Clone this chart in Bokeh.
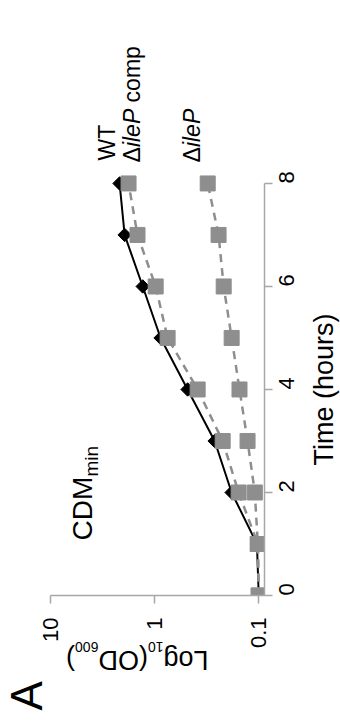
import math
from bokeh.plotting import figure
from bokeh.layouts import column
from bokeh.models import Label, Range1d, FixedTicker, NumeralTickFormatter
from bokeh.embed import file_html
from bokeh.resources import INLINE

# ---- data (time in hours, OD600) ----
time_h = [0, 1, 2, 3, 4, 5, 6, 7, 8]
od_wt = [0.100, 0.104, 0.182, 0.265, 0.482, 0.876, 1.30, 1.94, 2.17]
od_comp = [0.100, 0.102, 0.156, 0.222, 0.386, 0.75, 0.977, 1.46, 1.78]
od_ilep = [0.100, 0.102, 0.109, 0.128, 0.153, 0.182, 0.217, 0.243, 0.309]
time_ticks = [0, 2, 4, 6, 8]
od_ticks = [0.1, 1, 10]

FONT = "Liberation Sans"
AXIS_GRAY = "#a6a6a6"
MARK_GRAY = "#8e8e8e"
W, H = 340, 726
FL, FR = 50, 264  # frame left / right in page pixels

p = figure(width=W, height=H, x_axis_type="log", y_axis_location="right",
           x_range=Range1d(10, 0.088), y_range=Range1d(0, 11.28),
           output_backend="svg", toolbar_location=None,
           min_border_left=FL, min_border_right=W - FR, min_border_top=14, min_border_bottom=131)
p.grid.visible = False
p.outline_line_color = None
p.background_fill_color = None
p.border_fill_color = "white"
p.frame_align = False

for ax in (p.xaxis[0], p.yaxis[0]):
    ax.axis_line_color = AXIS_GRAY
    ax.axis_line_width = 1.5
    ax.major_tick_line_color = AXIS_GRAY
    ax.major_tick_line_width = 1.5
    ax.major_tick_out = 8
    ax.major_tick_in = 0
    ax.minor_tick_out = 0
    ax.minor_tick_in = 0
    ax.major_label_text_font = FONT
    ax.major_label_text_font_size = "22px"
    ax.major_label_text_color = "black"
    ax.major_label_orientation = math.pi / 2

p.xaxis.ticker = FixedTicker(ticks=od_ticks)
p.xaxis.formatter = NumeralTickFormatter(format="0.[0]")
p.xaxis.bounds = (0.088, 10)
p.xaxis.major_label_standoff = 14
p.yaxis.ticker = FixedTicker(ticks=time_ticks)
p.yaxis.bounds = (0, 8)
p.yaxis.major_label_standoff = 14

# WT
p.line(od_wt, time_h, line_color="black", line_width=2)
p.scatter(od_wt, time_h, marker="square", size=9.5, angle=math.pi / 4,
          fill_color="black", line_color="black")
# complemented
p.line(od_comp, time_h, line_color=MARK_GRAY, line_width=2.5, line_dash="8 6")
p.scatter(od_comp, time_h, marker="square", size=15, fill_color=MARK_GRAY, line_color=MARK_GRAY)
# deletion
p.line(od_ilep, time_h, line_color=MARK_GRAY, line_width=2.5, line_dash="8 6")
p.scatter(od_ilep, time_h, marker="square", size=15, fill_color=MARK_GRAY, line_color=MARK_GRAY)

# transparent overlay for free text, in page pixel coordinates
ov = figure(width=W, height=H, x_range=Range1d(0, W), y_range=Range1d(H, 0),
            x_axis_location=None, y_axis_location=None, toolbar_location=None,
            output_backend="svg", min_border=0, margin=(-H, 0, 0, 0))
ov.grid.visible = False
ov.outline_line_color = None
ov.background_fill_color = None
ov.border_fill_color = None
ov.frame_align = False

MID = 0.35  # distance from baseline to the middle of the em box, in em


def lab(xb, yb, text, size, angle=math.pi / 2, style="normal"):
    """(xb, yb): start of the text on its baseline, page pixels."""
    if abs(angle - math.pi / 2) < 1e-6:      # reads bottom-to-top, 'up' is screen-left
        x, y = xb - MID * size, yb
    else:                                     # upside down, 'up' is screen-down
        x, y = xb, yb + MID * size
    ov.add_layout(Label(x=x, y=y, text=text,
                        angle=angle, text_font=FONT, text_font_size=f"{size}px",
                        text_font_style=style, text_align="left",
                        text_baseline="middle", text_color="black"))


# legend-like labels
lab(115, 160, "WT", 23)
lab(140, 162, "\u0394", 23)
lab(140, 162 - 15.4, "ileP", 23, style="italic")
lab(140, 162 - 15.4 - 38.3, "\u00a0comp", 23)
lab(200, 162, "\u0394", 23)
lab(200, 162 - 15.4, "ileP", 23, style="italic")

# medium
lab(92, 540, "CDM", 28)
lab(98, 476, "min", 19)

# axis titles
lab(333, 465, "Time (hours)", 27)
x0 = 208
lab(x0, 650, "Log", 27, angle=math.pi)
x0 -= 1.668 * 27
lab(x0, 642, "10", 14, angle=math.pi)
x0 -= 1.112 * 14
lab(x0, 650, "(OD", 27, angle=math.pi)
x0 -= 1.833 * 27
lab(x0, 642, "600", 14, angle=math.pi)
x0 -= 1.668 * 14
lab(x0, 650, ")", 27, angle=math.pi)

# panel letter
lab(41, 710, "A", 44)

layout = column(p, ov, spacing=0)
open("out.html", "w").write(file_html(layout, INLINE))
